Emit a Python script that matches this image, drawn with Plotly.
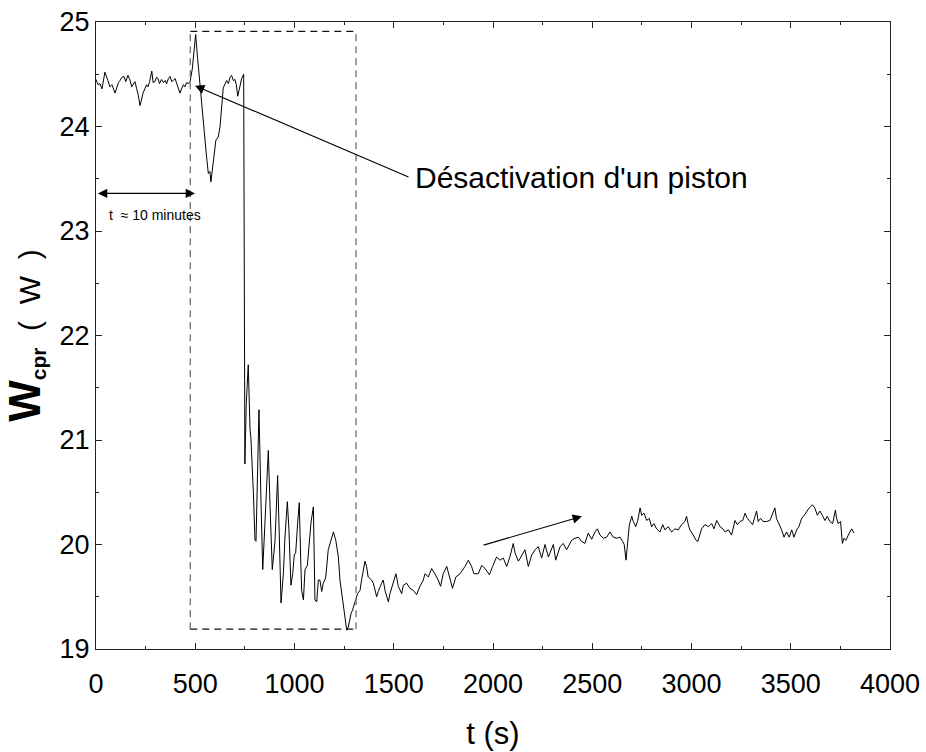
import plotly.graph_objects as go

# ---- data ----
t_s = [0, 10, 20, 30, 45, 52, 60, 70, 80, 96, 105, 113, 121, 130, 141, 150, 161, 170, 180, 188,
       196, 205, 212, 222, 230, 237, 246, 255, 262, 270, 281, 288, 297, 305, 312, 320, 330, 340,
       348, 356, 365, 373, 381, 390, 398, 406, 415, 423, 431, 440, 448, 456, 465, 474,
       485, 495, 502, 512, 524, 540, 557, 566, 574, 579, 585, 591, 604, 616, 625, 641, 650, 658,
       667, 675, 683, 692, 700, 707, 714, 725, 734, 744,
       750, 757, 767, 776, 780, 793, 801, 806, 814, 821, 831, 840, 851, 868, 877, 888, 902, 910,
       915, 923, 932, 944, 952, 964, 972, 982, 991, 999, 1006, 1016, 1024, 1031, 1036, 1045, 1053,
       1065, 1073, 1083, 1095, 1103, 1112, 1120, 1128, 1137, 1145, 1157, 1170, 1182, 1196, 1208,
       1221, 1229, 1241, 1251, 1263, 1271, 1276, 1285, 1292, 1302, 1308, 1318, 1330, 1338, 1347,
       1355, 1363, 1371, 1388, 1397, 1414, 1422, 1439, 1447, 1456, 1473, 1481, 1498, 1511, 1523,
       1540, 1548, 1565, 1582, 1599, 1615, 1632, 1649, 1657, 1674, 1691, 1707, 1724, 1736, 1749,
       1767, 1783, 1796, 1813, 1834, 1859, 1876, 1892, 1904, 1926, 1943, 1960, 1982, 1998, 2018,
       2035, 2052, 2069, 2085, 2102, 2111, 2128, 2145, 2161, 2178, 2195, 2212, 2228, 2245, 2262,
       2279, 2295, 2304, 2316, 2338, 2354, 2371, 2396, 2413, 2430, 2446, 2463, 2480, 2497, 2514,
       2526, 2539, 2556, 2573, 2589, 2606, 2623, 2640, 2653, 2661, 2670, 2678, 2687, 2699, 2707,
       2719, 2729, 2741, 2749, 2761, 2774, 2787, 2799, 2811, 2824, 2841, 2855, 2866, 2883, 2900,
       2916, 2933, 2950, 2967, 2975, 2984, 2992, 3009, 3023, 3032, 3043, 3051, 3068, 3085, 3102,
       3113, 3127, 3144, 3158, 3169, 3186, 3202, 3219, 3231, 3244, 3258, 3270, 3281, 3295, 3308,
       3320, 3328, 3336, 3348, 3361, 3378, 3395, 3409, 3420, 3428, 3441, 3454, 3466, 3479, 3492,
       3505, 3516, 3530, 3541, 3555, 3568, 3580, 3593, 3609, 3621, 3634, 3647, 3659, 3672, 3684,
       3697, 3711, 3725, 3731, 3739, 3751, 3760, 3768, 3778, 3790, 3807, 3819]

w_cpr = [24.45, 24.40, 24.41, 24.36, 24.52, 24.47, 24.44, 24.38, 24.40, 24.32, 24.38, 24.42, 24.44,
         24.47, 24.48, 24.43, 24.49, 24.45, 24.38, 24.40, 24.43, 24.36, 24.31, 24.20, 24.27, 24.32,
         24.36, 24.40, 24.38, 24.43, 24.53, 24.42, 24.43, 24.47, 24.46, 24.41, 24.45, 24.42, 24.44,
         24.41, 24.46, 24.48, 24.43, 24.44, 24.46, 24.41, 24.37, 24.32, 24.36, 24.40, 24.38, 24.42,
         24.41, 24.43,
         24.55, 24.75, 24.88, 24.65, 24.38, 24.09, 23.71, 23.55, 23.57, 23.47, 23.56, 23.65, 23.87,
         23.90, 24.00, 24.37, 24.40, 24.44, 24.41, 24.47, 24.49, 24.44, 24.45, 24.40, 24.29, 24.38,
         24.46, 24.50,
         20.77, 21.35, 21.72, 21.10, 21.03, 20.49, 20.04, 20.03, 20.87, 21.29, 20.43, 19.76, 20.20,
         20.90, 20.36, 19.76, 20.04, 20.46, 20.66, 20.11, 19.44, 19.72, 20.07, 20.41, 20.14, 19.61,
         19.72, 19.90, 19.92, 20.21, 20.40, 19.88, 19.56, 19.47, 19.76, 19.80, 20.01, 20.21, 20.36,
         19.47, 19.45, 19.66, 19.66, 19.55, 19.63, 19.68, 19.95, 20.04, 20.12, 20.04, 19.88, 19.66,
         19.50, 19.37, 19.18, 19.21, 19.26, 19.34, 19.37, 19.42, 19.47, 19.53, 19.56, 19.66, 19.76,
         19.84, 19.79, 19.69, 19.66, 19.63, 19.50, 19.55, 19.63, 19.66, 19.56, 19.45, 19.53, 19.63,
         19.72, 19.60, 19.53, 19.61, 19.63, 19.58, 19.56, 19.52, 19.60, 19.66, 19.72, 19.69, 19.77,
         19.72, 19.66, 19.60, 19.72, 19.79, 19.66, 19.58, 19.69, 19.72, 19.79, 19.85, 19.79, 19.72,
         19.72, 19.80, 19.77, 19.71, 19.79, 19.88, 19.85, 19.87, 19.79, 19.88, 20.01, 19.92, 19.84,
         19.90, 19.95, 19.79, 19.90, 19.95, 19.98, 19.87, 20.00, 19.88, 19.95, 20.00, 19.85, 19.98,
         20.01, 19.95, 20.04, 20.06, 20.07, 20.03, 20.01, 20.11, 20.05, 20.12, 20.15, 20.09, 20.06,
         20.07, 20.12, 20.07, 20.06, 20.07, 20.03, 20.00, 19.85, 20.04, 20.19, 20.27, 20.22, 20.17,
         20.23, 20.35, 20.28, 20.30, 20.23, 20.25, 20.17, 20.20, 20.15, 20.12, 20.19, 20.14, 20.17,
         20.12, 20.15, 20.14, 20.19, 20.22, 20.27, 20.19, 20.14, 20.09, 20.04, 20.03, 20.09, 20.15,
         20.19, 20.17, 20.20, 20.15, 20.23, 20.17, 20.15, 20.12, 20.14, 20.09, 20.23, 20.19, 20.22,
         20.23, 20.30, 20.25, 20.22, 20.19, 20.27, 20.32, 20.22, 20.25, 20.22, 20.22, 20.23, 20.30,
         20.35, 20.25, 20.20, 20.14, 20.07, 20.12, 20.07, 20.14, 20.07, 20.14, 20.17, 20.25, 20.28,
         20.32, 20.35, 20.38, 20.35, 20.28, 20.32, 20.28, 20.23, 20.27, 20.22, 20.20, 20.33, 20.25,
         20.20, 20.22, 20.01, 20.06, 20.04, 20.09, 20.15, 20.11]

x_ticks = [0, 500, 1000, 1500, 2000, 2500, 3000, 3500, 4000]
y_ticks = [19, 20, 21, 22, 23, 24, 25]

# annotation geometry (data units)
box_x0, box_x1, box_y0, box_y1 = 475, 1310, 19.19, 24.91
FONT = "Liberation Sans, Arial, sans-serif"

fig = go.Figure()
fig.add_trace(go.Scatter(x=t_s, y=w_cpr, mode="lines",
                         line=dict(color="black", width=1), showlegend=False,
                         hoverinfo="skip"))

# dashed box
dash = "7px,5px"
fig.add_shape(type="line", x0=box_x0, x1=box_x0, y0=box_y0, y1=box_y1,
              line=dict(color="#707070", width=1.3, dash=dash))
fig.add_shape(type="line", x0=box_x1, x1=box_x1, y0=box_y0, y1=box_y1,
              line=dict(color="#707070", width=1.3, dash=dash))
fig.add_shape(type="line", x0=box_x0, x1=box_x1, y0=box_y1, y1=box_y1,
              line=dict(color="#111", width=1.1, dash=dash))
fig.add_shape(type="line", x0=box_x0, x1=box_x1, y0=box_y0, y1=box_y0,
              line=dict(color="#111", width=1.1, dash=dash))

# arrow to deactivation point
fig.add_annotation(x=499, y=24.39, ax=1582, ay=23.51, xref="x", yref="y",
                   axref="x", ayref="y", text="", showarrow=True,
                   arrowhead=2, arrowsize=1.7, arrowwidth=1.1, arrowcolor="black")
fig.add_annotation(x=1597, y=23.51, xref="x", yref="y", text="Désactivation d'un piston",
                   showarrow=False, xanchor="left", yanchor="middle",
                   font=dict(family=FONT, size=30, color="black"))

# double arrow t ~ 10 minutes
fig.add_annotation(x=499, y=23.36, ax=2, ay=23.36, xref="x", yref="y",
                   axref="x", ayref="y", text="", showarrow=True, arrowside="end+start",
                   arrowhead=2, startarrowhead=2, arrowsize=1.7, startarrowsize=1.7,
                   arrowwidth=1.1, arrowcolor="black")
fig.add_annotation(x=55, y=23.15, xref="x", yref="y", text="t  ≈ 10 minutes",
                   showarrow=False, xanchor="left", yanchor="middle",
                   font=dict(family=FONT, size=14, color="black"))

# trend arrow
fig.add_annotation(x=2448, y=20.27, ax=1945, ay=19.99, xref="x", yref="y",
                   axref="x", ayref="y", text="", showarrow=True,
                   arrowhead=2, arrowsize=1.7, arrowwidth=1.1, arrowcolor="black")

axis_common = dict(showgrid=False, zeroline=False, showline=True, linecolor="#222",
                   linewidth=1.2, mirror="allticks", ticks="inside", ticklen=6,
                   tickwidth=1.1, tickcolor="#222", automargin=False,
                   tickfont=dict(family=FONT, size=27, color="black"))

fig.update_xaxes(range=[0, 4000], tickvals=x_ticks, ticktext=[str(v) for v in x_ticks],
                 minor=dict(tickvals=[250 + 500 * i for i in range(8)], ticklen=3,
                            ticks="inside", tickcolor="#222"),
                 ticklabelstandoff=10,
                 title=dict(text="t (s)", font=dict(family=FONT, size=31, color="black"),
                            standoff=24),
                 **axis_common)
fig.update_yaxes(range=[19, 25], tickvals=y_ticks, ticktext=[str(v) for v in y_ticks],
                 minor=dict(tickvals=[19.5 + i for i in range(6)], ticklen=3,
                            ticks="inside", tickcolor="#222"),
                 title=dict(text="<span style='font-size:44px'><b>W</b></span><sub><b>cpr</b></sub>  (  W  )",
                            font=dict(family=FONT, size=30, color="black"), standoff=10),
                 **axis_common)

fig.update_layout(width=926, height=752, margin=dict(l=96, r=36, t=22, b=103, autoexpand=False),
                  paper_bgcolor="white", plot_bgcolor="white", showlegend=False)

fig.write_html("out.html")
